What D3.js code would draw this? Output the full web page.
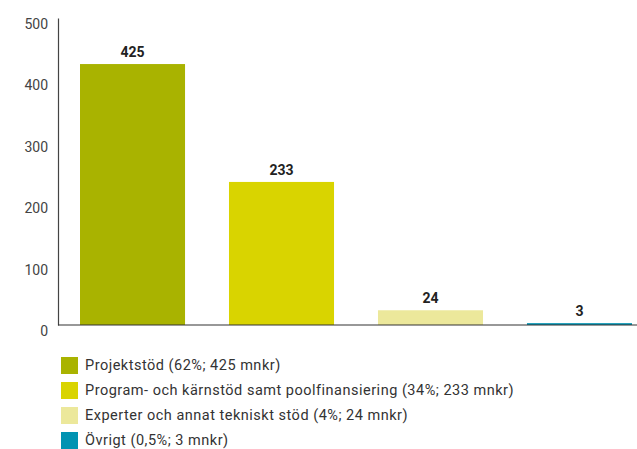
<!DOCTYPE html>
<html>
<head>
<meta charset="utf-8">
<script src="https://cdn.jsdelivr.net/npm/d3@7"></script>
<style>
  body { margin: 0; background: #fff; }
  svg { display: block; font-family: Roboto, "DejaVu Sans", sans-serif; }
</style>
</head>
<body>
<div id="chart"></div>
<script>
const categories = [
  "Projektstöd",
  "Program- och kärnstöd samt poolfinansiering",
  "Experter och annat tekniskt stöd",
  "Övrigt"
];
const values = [425, 233, 24, 3];
const legendLabels = [
  "Projektstöd (62%; 425 mnkr)",
  "Program- och kärnstöd samt poolfinansiering (34%; 233 mnkr)",
  "Experter och annat tekniskt stöd (4%; 24 mnkr)",
  "Övrigt (0,5%; 3 mnkr)"
];
const colors = ["#a9b300", "#d9d400", "#ece89b", "#0093b2"];
const yTicks = [0, 100, 200, 300, 400, 500];

const W = 637, H = 449;
const axisX = 58, plotRight = 637, y0 = 325, yTop = 18;

const svg = d3.select("#chart").append("svg")
  .attr("width", W).attr("height", H);

// bars 105px wide, 149px step, first starting at x=80
const x = d3.scaleBand()
  .domain(categories)
  .range([80, 632])
  .paddingInner(0.295)
  .paddingOuter(0);

const y = d3.scaleLinear().domain([0, 500]).range([y0, yTop]);

// bars
svg.selectAll("rect.bar")
  .data(values)
  .join("rect")
  .attr("class", "bar")
  .attr("x", (d, i) => x(categories[i]))
  .attr("width", x.bandwidth())
  .attr("y", d => y(d))
  .attr("height", d => y0 - y(d))
  .attr("fill", (d, i) => colors[i]);

// value labels
svg.selectAll("text.val")
  .data(values)
  .join("text")
  .attr("class", "val")
  .attr("x", (d, i) => x(categories[i]) + x.bandwidth() / 2)
  .attr("y", d => y(d) - 7)
  .attr("text-anchor", "middle")
  .attr("font-size", 14)
  .attr("font-weight", 700)
  .attr("fill", "#222")
  .text(d => d);

// y axis
const yAxis = d3.axisLeft(y).tickValues(yTicks).tickSize(0).tickPadding(10);
const gy = svg.append("g").attr("transform", `translate(${axisX},0)`).call(yAxis);
gy.select(".domain").attr("stroke", "#444").attr("stroke-width", 1.2);
gy.selectAll(".tick text")
  .attr("font-family", "Roboto, sans-serif")
  .attr("font-size", 14)
  .attr("fill", "#444")
  .attr("dy", "0.75em");

// baseline
svg.append("line")
  .attr("x1", axisX).attr("x2", plotRight)
  .attr("y1", y0).attr("y2", y0)
  .attr("stroke", "#333").attr("stroke-width", 1.2);

// legend
const legend = svg.append("g").attr("transform", "translate(61,357)");
const rows = legend.selectAll("g")
  .data(legendLabels)
  .join("g")
  .attr("transform", (d, i) => `translate(0,${i * 25})`);
rows.append("rect")
  .attr("width", 17).attr("height", 17)
  .attr("fill", (d, i) => colors[i]);
rows.append("text")
  .attr("x", 24).attr("y", 8.5)
  .attr("dominant-baseline", "central")
  .attr("font-size", 14.5)
  .attr("letter-spacing", 0.5)
  .attr("fill", "#333")
  .text(d => d);
</script>
</body>
</html>
